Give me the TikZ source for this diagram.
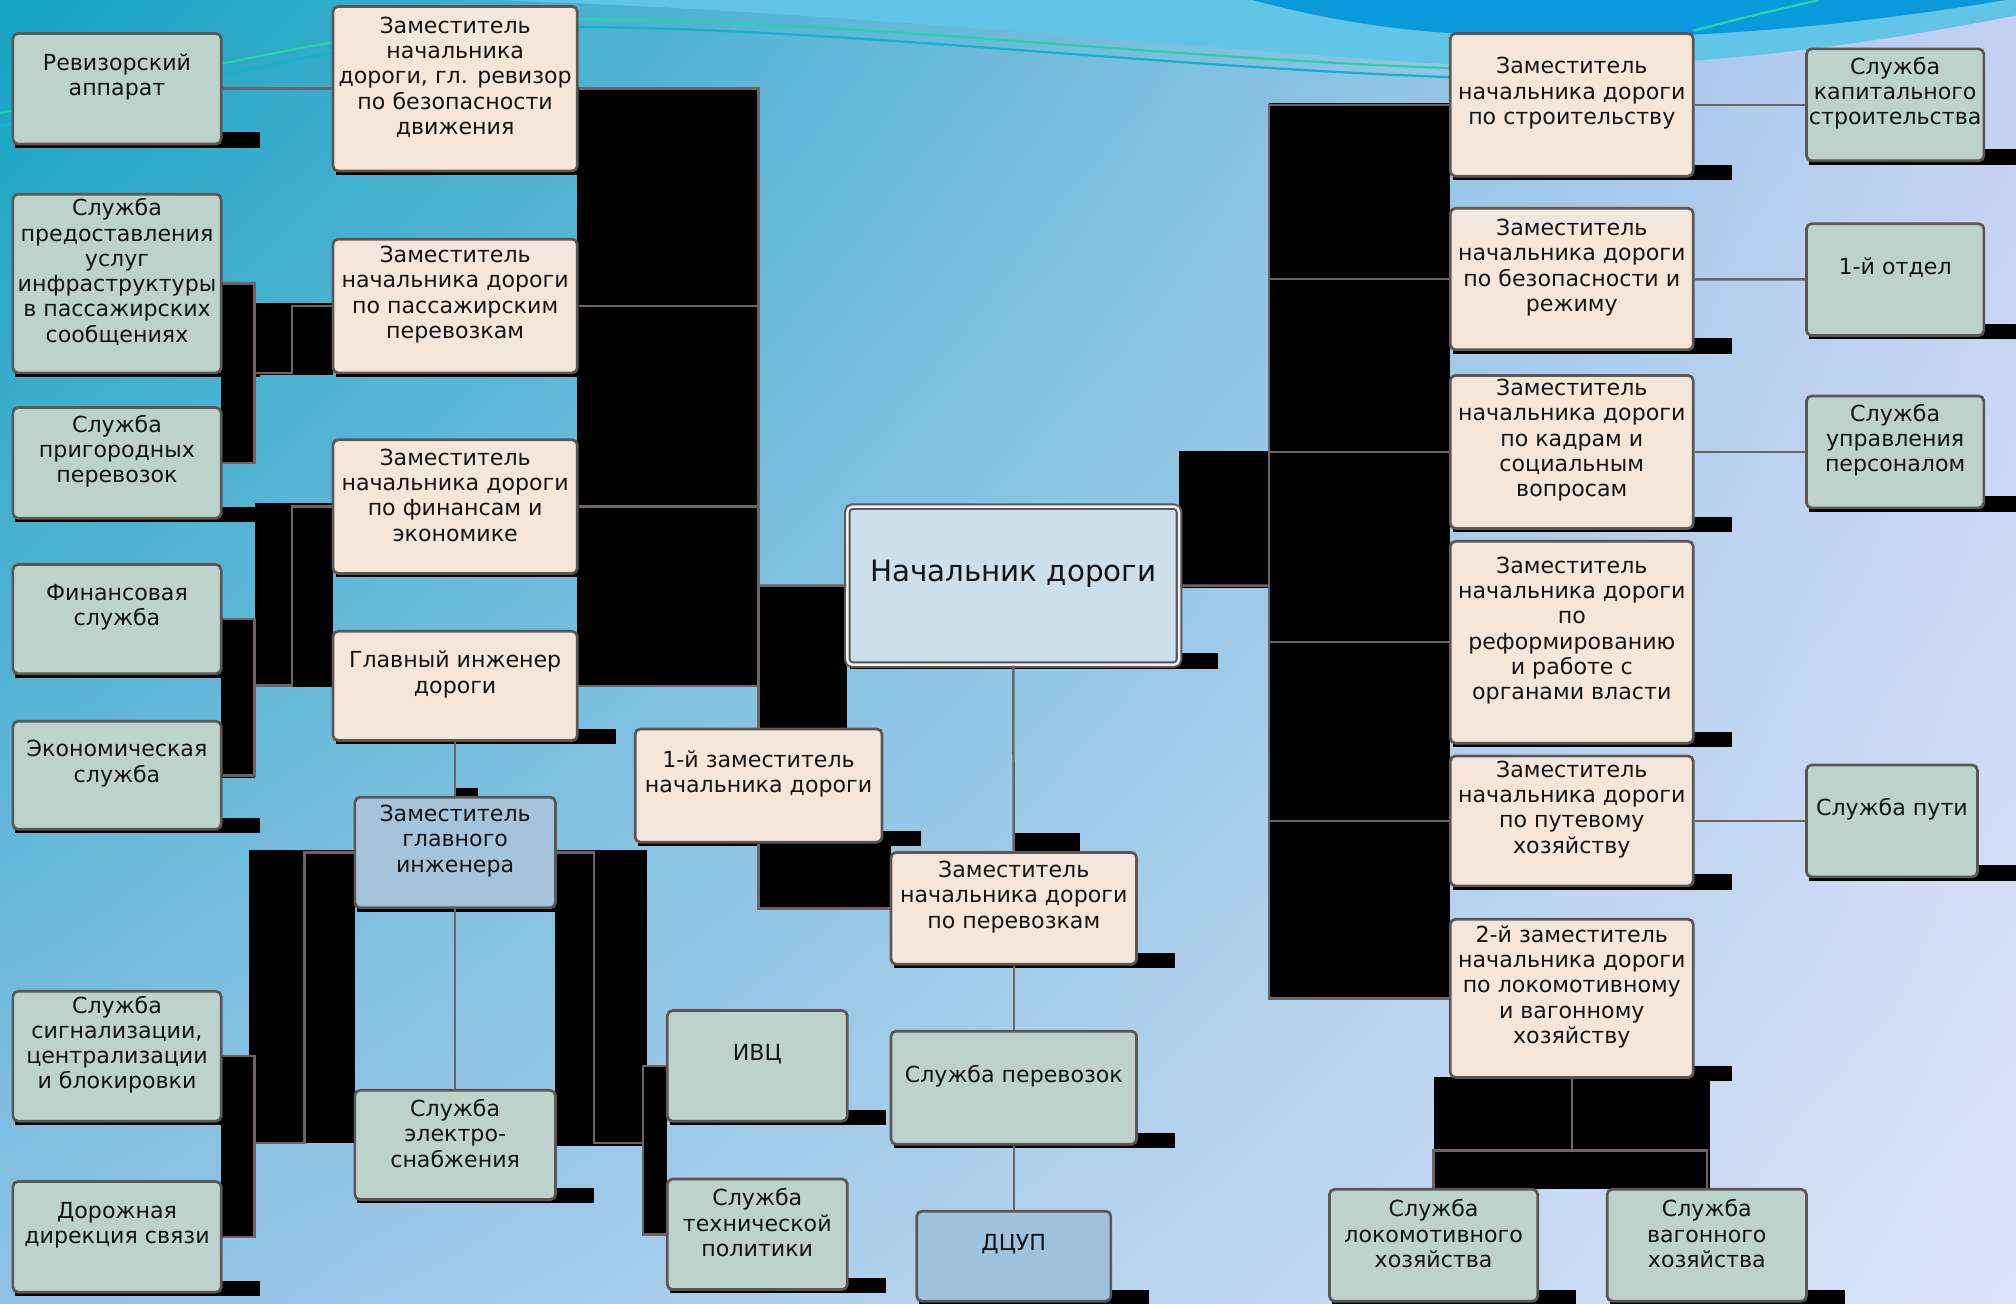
\documentclass[tikz,border=0pt]{standalone}
\usepackage{fontspec}
\setmainfont{DejaVu Sans}
\usetikzlibrary{fit,shadings}

\definecolor{peach}{HTML}{F5E6DC}
\definecolor{sage}{HTML}{BCD2CA}
\definecolor{steel}{HTML}{A6C3DC}
\definecolor{dcupblue}{HTML}{9FC2DE}
\definecolor{bossfill}{HTML}{CEDFEC}
\definecolor{frame}{HTML}{5E5654}
\definecolor{wire}{HTML}{6E6461}
\definecolor{ink}{HTML}{151515}
\definecolor{bgteal}{HTML}{14A3C2}
\definecolor{bgsky}{HTML}{C4D0F3}
\definecolor{bgmist}{HTML}{8FC2E5}
\definecolor{bgpale}{HTML}{DCE3F8}
\definecolor{swoosh}{HTML}{62C4E6}
\definecolor{swooshdeep}{HTML}{0A9ADB}
\definecolor{streakgreen}{HTML}{27D3A4}
\definecolor{streakteal}{HTML}{12B4CC}

% box with its shadow bar: name, style, x1, y1, x2, y2, text
\newcommand\orgbox[7]{%
  \fill[black] ({#3+2},{#6-9}) rectangle ({#5+30},{#6+3});
  \node[#2, fit={(#3,#4) (#5,#6)}, label={[lbl]center:{#7}}] (#1) {};
}

\begin{document}
\begin{tikzpicture}[x=0.2mm, y=-0.2mm,
    box/.style={draw=frame, line width=1.2pt, rounded corners=0.8mm, inner sep=0pt},
    peachbox/.style={box, fill=peach},
    sagebox/.style={box, fill=sage},
    steelbox/.style={box, fill=steel},
    dcupbox/.style={box, fill=dcupblue},
    bossbox/.style={box, fill=bossfill, line width=0.9pt, double=bossfill!40!white, double distance=1.1pt},
    lbl/.style={align=center, yshift=1.8mm, text=ink, font=\fontsize{9.8}{11.2}\selectfont},
    link/.style={draw=wire, line width=1.1pt},
    blot/.style={fill=black}]

\useasboundingbox (0,0) rectangle (1568,1014);

% background
\shade[upper left=bgteal, upper right=bgsky, lower left=bgmist, lower right=bgpale] (0,0) rectangle (1568,1014);
\fill[swoosh] (380,0) .. controls (650,8) and (950,40) .. (1128,50) .. controls (1300,58) and (1450,35) .. (1568,12) -- (1568,0) -- cycle;
\fill[swooshdeep] (974,0) .. controls (1050,20) and (1110,28) .. (1220,29) .. controls (1350,30) and (1470,15) .. (1560,0) -- cycle;
\draw[streakgreen, line width=1pt] (0,88) .. controls (150,55) and (300,15) .. (450,15) .. controls (650,15) and (900,45) .. (1128,53);
\draw[streakteal, line width=1pt] (0,98) .. controls (150,65) and (300,22) .. (450,21) .. controls (650,22) and (900,52) .. (1128,60);
\draw[streakgreen, line width=1pt] (1317,24) .. controls (1350,15) and (1380,8) .. (1415,0);

% black connector fills
\foreach \xa/\ya/\xb/\yb in {449/68/590/533, 590/455/659/567, 590/655/693/707,
    917/351/987/457, 987/80/1128/778, 1115/838/1330/925,
    172/219/198/360, 198/236/259/292, 198/391/259/534, 172/481/198/605,
    194/661/276/889, 172/821/198/963, 432/661/503/891, 500/829/519/961,
    789/648/840/663, 355/613/372/620}
  \fill[blot] (\xa,\ya) rectangle (\xb,\yb);

% left services
\orgbox{rev}{sagebox}{10}{26}{172}{112}{Ревизорский\\аппарат}
\orgbox{psrv}{sagebox}{10}{151}{172}{290}{Служба\\предоставления\\услуг\\инфраструктуры\\в пассажирских\\сообщениях}
\orgbox{prig}{sagebox}{10}{317}{172}{403}{Служба\\пригородных\\перевозок}
\orgbox{finsrv}{sagebox}{10}{439}{172}{524}{Финансовая\\служба}
\orgbox{econ}{sagebox}{10}{561}{172}{645}{Экономическая\\служба}
\orgbox{scb}{sagebox}{10}{771}{172}{872}{Служба\\сигнализации,\\централизации\\и блокировки}
\orgbox{svyaz}{sagebox}{10}{919}{172}{1005}{Дорожная\\дирекция связи}

% left deputies
\orgbox{zrev}{peachbox}{259}{5}{449}{133}{Заместитель\\начальника\\дороги, гл. ревизор\\по безопасности\\движения}
\orgbox{zpass}{peachbox}{259}{186}{449}{290}{Заместитель\\начальника дороги\\по пассажирским\\перевозкам}
\orgbox{zfin}{peachbox}{259}{342}{449}{446}{Заместитель\\начальника дороги\\по финансам и\\экономике}
\orgbox{glinzh}{peachbox}{259}{491}{449}{576}{Главный инженер\\дороги}
\orgbox{zglinzh}{steelbox}{276}{620}{432}{706}{Заместитель\\главного\\инженера}
\orgbox{elektro}{sagebox}{276}{848}{432}{933}{Служба\\электро-\\снабжения}

% middle
\orgbox{boss}{bossbox}{659}{394}{917}{517}{\fontsize{13}{15}\selectfont Начальник дороги}
\orgbox{first}{peachbox}{494}{567}{686}{655}{1-й заместитель\\начальника дороги}
\orgbox{zperev}{peachbox}{693}{663}{884}{750}{Заместитель\\начальника дороги\\по перевозкам}
\orgbox{ivc}{sagebox}{519}{786}{659}{872}{ИВЦ}
\orgbox{sperev}{sagebox}{693}{802}{884}{890}{Служба перевозок}
\orgbox{tehpol}{sagebox}{519}{917}{659}{1003}{Служба\\технической\\политики}
\orgbox{dcup}{dcupbox}{713}{942}{864}{1012}{ДЦУП}

% right deputies
\orgbox{zstroi}{peachbox}{1128}{26}{1317}{137}{Заместитель\\начальника дороги\\по строительству}
\orgbox{zbez}{peachbox}{1128}{162}{1317}{272}{Заместитель\\начальника дороги\\по безопасности и\\режиму}
\orgbox{zkadr}{peachbox}{1128}{292}{1317}{411}{Заместитель\\начальника дороги\\по кадрам и\\социальным\\вопросам}
\orgbox{zreform}{peachbox}{1128}{421}{1317}{578}{Заместитель\\начальника дороги\\по\\реформированию\\и работе с\\органами власти}
\orgbox{zput}{peachbox}{1128}{588}{1317}{689}{Заместитель\\начальника дороги\\по путевому\\хозяйству}
\orgbox{zloko}{peachbox}{1128}{715}{1317}{838}{2-й заместитель\\начальника дороги\\по локомотивному\\и вагонному\\хозяйству}

% right services
\orgbox{kapstroi}{sagebox}{1405}{38}{1543}{125}{Служба\\капитального\\строительства}
\orgbox{otdel}{sagebox}{1405}{174}{1543}{261}{1-й отдел}
\orgbox{personal}{sagebox}{1405}{308}{1543}{395}{Служба\\управления\\персоналом}
\orgbox{put}{sagebox}{1405}{595}{1538}{682}{Служба пути}
\orgbox{loko}{sagebox}{1034}{925}{1196}{1012}{Служба\\локомотивного\\хозяйства}
\orgbox{vagon}{sagebox}{1250}{925}{1405}{1012}{Служба\\вагонного\\хозяйства}

% junctions
\coordinate (lbus) at (590,455.5);
\coordinate (rbus) at (987,455.5);
\coordinate (pknee) at (227,290);
\coordinate (pbus) at (198,290);
\coordinate (fknee) at (227,533);
\coordinate (fbus) at (198,533);
\coordinate (gknee) at (237,889);
\coordinate (gbus) at (198,889);
\coordinate (hknee) at (462,889);
\coordinate (hbus) at (500,889);
\coordinate (ljunc) at (1222.5,895);

% connectors
\draw[link] (rev) -- (zrev);
\foreach \d in {zrev,zpass,zfin,glinzh}
  \draw[link] (\d.east) -| (lbus);
\draw[link] (lbus) -- (boss.west);
\draw[link] (first.north) -- (lbus);
\draw[link] (first.south) |- (zperev.west);
\draw[link] (boss) -- (zperev);
\draw[link] (zperev) -- (sperev);
\draw[link] (sperev) -- (dcup);
\draw[link] (boss.east) -- (rbus);
\foreach \d in {zstroi,zbez,zkadr,zreform,zput,zloko}
  \draw[link] (rbus) |- (\d.west);
\draw[link] (zstroi) -- (kapstroi);
\draw[link] (zbez) -- (otdel);
\draw[link] (zkadr) -- (personal);
\draw[link] (zput) -- (put);
\draw[link] (zloko.south) -- (ljunc);
\draw[link] (ljunc) -| (loko.north);
\draw[link] (ljunc) -| (vagon.north);

\draw[link] (zpass.west) -| (pknee) -- (pbus);
\draw[link] (psrv.east) -| (pbus);
\draw[link] (prig.east) -| (pbus);
\draw[link] (zfin.west) -| (fknee) -- (fbus);
\draw[link] (finsrv.east) -| (fbus);
\draw[link] (econ.east) -| (fbus);
\draw[link] (glinzh) -- (zglinzh);
\draw[link] (zglinzh) -- (elektro);
\draw[link] (zglinzh.west) -| (gknee) -- (gbus);
\draw[link] (scb.east) -| (gbus);
\draw[link] (svyaz.east) -| (gbus);
\draw[link] (zglinzh.east) -| (hknee) -- (hbus);
\draw[link] (ivc.west) -| (hbus);
\draw[link] (tehpol.west) -| (hbus);
\end{tikzpicture}
\end{document}
